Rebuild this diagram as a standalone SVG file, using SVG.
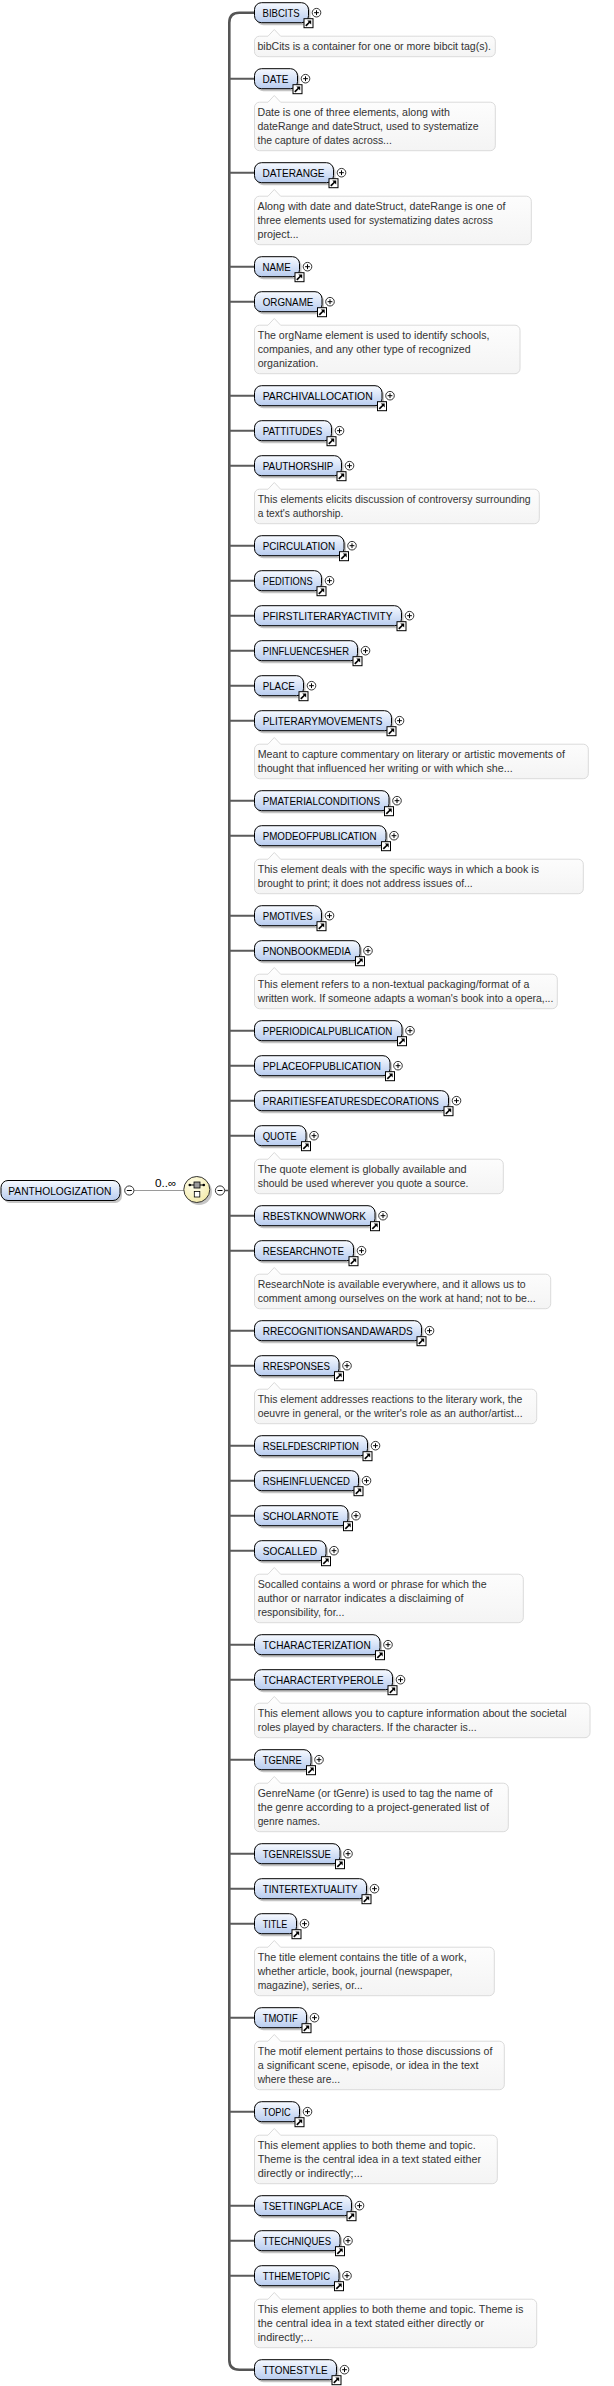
<svg xmlns="http://www.w3.org/2000/svg" width="614" height="2386" viewBox="0 0 614 2386">
<style>
.box{fill:url(#gN);stroke:#000;stroke-width:1}
.sh{fill:#8c8c8c;opacity:.5}
.lbl{font-family:"Liberation Sans",Arial,sans-serif;font-size:11px;fill:#000}
.dsc{fill:url(#gD);stroke:#dadada;stroke-width:1}
.dt{font-family:"Liberation Sans",Arial,sans-serif;font-size:10.5px;fill:#333}
.br{stroke:#5b5b5b;stroke-width:2;fill:none}
.bar{stroke:#555;stroke-width:2.6;fill:none}
</style>
<defs>
<linearGradient id="gN" x1="0" y1="0" x2="0" y2="1"><stop offset="0" stop-color="#f7faff"/><stop offset="1" stop-color="#b8ccef"/></linearGradient>
<linearGradient id="gD" x1="0" y1="0" x2="0" y2="1"><stop offset="0" stop-color="#fefefe"/><stop offset="1" stop-color="#f4f4f4"/></linearGradient>
<radialGradient id="gC" cx="0.4" cy="0.35" r="0.7"><stop offset="0" stop-color="#fffff0"/><stop offset="1" stop-color="#f3eaa8"/></radialGradient>
<g id="lnk"><rect x="0.5" y="0.5" width="9" height="9" fill="#fff" stroke="#000"/><path d="M2.3 7.7L6.2 3.8" stroke="#000" stroke-width="1.7"/><path d="M3.8 2.3H7.7V6.2Z" fill="#000"/></g>
<g id="plus"><circle r="4.3" fill="#fff" stroke="#333"/><path d="M-2.4 0H2.4M0 -2.4V2.4" stroke="#000"/></g>
<g id="minus"><circle r="4.6" fill="#fff" stroke="#333"/><path d="M-2.5 0H2.5" stroke="#000"/></g>
</defs>
<rect width="614" height="2386" fill="#fff"/>

<g id="connectors">
<line x1="134" y1="1190.5" x2="184" y2="1190.5" stroke="#9a9a9a" stroke-width="1"/>
<line x1="224.5" y1="1190.5" x2="229.3" y2="1190.5" stroke="#555" stroke-width="1.5"/>
<path class="bar" d="M254.5 12.7H239.3Q229.3 12.7 229.3 22.7V2359.7Q229.3 2369.7 239.3 2369.7H254.5"/>
<path class="br" d="M229.3 78.7H254.5M229.3 172.7H254.5M229.3 266.7H254.5M229.3 301.7H254.5M229.3 395.7H254.5M229.3 430.7H254.5M229.3 465.7H254.5M229.3 545.7H254.5M229.3 580.7H254.5M229.3 615.7H254.5M229.3 650.7H254.5M229.3 685.7H254.5M229.3 720.7H254.5M229.3 800.7H254.5M229.3 835.7H254.5M229.3 915.7H254.5M229.3 950.7H254.5M229.3 1030.7H254.5M229.3 1065.7H254.5M229.3 1100.7H254.5M229.3 1135.7H254.5M229.3 1215.7H254.5M229.3 1250.7H254.5M229.3 1330.7H254.5M229.3 1365.7H254.5M229.3 1445.7H254.5M229.3 1480.7H254.5M229.3 1515.7H254.5M229.3 1550.7H254.5M229.3 1644.7H254.5M229.3 1679.7H254.5M229.3 1759.7H254.5M229.3 1853.7H254.5M229.3 1888.7H254.5M229.3 1923.7H254.5M229.3 2017.7H254.5M229.3 2111.7H254.5M229.3 2205.7H254.5M229.3 2240.7H254.5M229.3 2275.7H254.5"/>
<text x="155" y="1187" class="lbl" font-size="10.5" textLength="21.5" lengthAdjust="spacingAndGlyphs">0..∞</text>
</g>

<g id="root">
<rect class="sh" x="3" y="1183" width="119" height="20" rx="7"/>
<rect class="box" x="1" y="1180.5" width="119" height="20" rx="7"/>
<text class="lbl" x="8.3" y="1194.5" textLength="103" lengthAdjust="spacingAndGlyphs">PANTHOLOGIZATION</text>
<use href="#minus" x="129.3" y="1190.5"/>
</g>

<g id="sequence">
<circle cx="199" cy="1192" r="13" fill="#8c8c8c" opacity=".5"/>
<circle cx="196.8" cy="1189.5" r="13" fill="url(#gC)" stroke="#333" stroke-width="1"/>
<line x1="189.5" y1="1185" x2="204" y2="1185" stroke="#000" stroke-width="1"/>
<circle cx="189.8" cy="1185" r="1.3" fill="#000"/>
<circle cx="203.8" cy="1185" r="1.3" fill="#000"/>
<rect x="194" y="1182" width="6" height="6" fill="#9a9a9a" stroke="#000" stroke-width="0.8"/>
<rect x="194.3" y="1191.5" width="5.5" height="5.5" fill="#fff" stroke="#000" stroke-width="0.8"/>
<use href="#minus" x="220" y="1190.5"/>
</g>

<g id="BIBCITS" transform="translate(0,12.7)">
<rect class="sh" x="256.5" y="-7.5" width="54" height="20" rx="7"/><rect class="box" x="254.5" y="-10" width="54" height="20" rx="7"/>
<text class="lbl" x="262.5" y="4" textLength="37.2" lengthAdjust="spacingAndGlyphs">BIBCITS</text>
<use href="#lnk" x="303.5" y="5.5"/><use href="#plus" x="316.5" y="0"/>
<path class="dsc" d="M259.5 23.5H268L274.3 16.8L280.6 23.5H490.3A5 5 0 0 1 495.3 28.5V39A5 5 0 0 1 490.3 44H259.5A5 5 0 0 1 254.5 39V28.5A5 5 0 0 1 259.5 23.5Z"/>
<text class="dt" x="257.5" y="37.5" textLength="233.4" lengthAdjust="spacingAndGlyphs">bibCits is a container for one or more bibcit tag(s).</text>
</g>

<g id="DATE" transform="translate(0,78.7)">
<rect class="sh" x="256.5" y="-7.5" width="43" height="20" rx="7"/><rect class="box" x="254.5" y="-10" width="43" height="20" rx="7"/>
<text class="lbl" x="262.5" y="4" textLength="26" lengthAdjust="spacingAndGlyphs">DATE</text>
<use href="#lnk" x="292.5" y="5.5"/><use href="#plus" x="305.5" y="0"/>
<path class="dsc" d="M259.5 23.5H268L274.3 16.8L280.6 23.5H490.3A5 5 0 0 1 495.3 28.5V67A5 5 0 0 1 490.3 72H259.5A5 5 0 0 1 254.5 67V28.5A5 5 0 0 1 259.5 23.5Z"/>
<text class="dt" x="257.5" y="37.5" textLength="192.3" lengthAdjust="spacingAndGlyphs">Date is one of three elements, along with</text>
<text class="dt" x="257.5" y="51.5" textLength="221.2" lengthAdjust="spacingAndGlyphs">dateRange and dateStruct, used to systematize</text>
<text class="dt" x="257.5" y="65.5" textLength="134.3" lengthAdjust="spacingAndGlyphs">the capture of dates across...</text>
</g>

<g id="DATERANGE" transform="translate(0,172.7)">
<rect class="sh" x="256.5" y="-7.5" width="79" height="20" rx="7"/><rect class="box" x="254.5" y="-10" width="79" height="20" rx="7"/>
<text class="lbl" x="262.5" y="4" textLength="62" lengthAdjust="spacingAndGlyphs">DATERANGE</text>
<use href="#lnk" x="328.5" y="5.5"/><use href="#plus" x="341.5" y="0"/>
<path class="dsc" d="M259.5 23.5H268L274.3 16.8L280.6 23.5H526.3A5 5 0 0 1 531.3 28.5V67A5 5 0 0 1 526.3 72H259.5A5 5 0 0 1 254.5 67V28.5A5 5 0 0 1 259.5 23.5Z"/>
<text class="dt" x="257.5" y="37.5" textLength="247.9" lengthAdjust="spacingAndGlyphs">Along with date and dateStruct, dateRange is one of</text>
<text class="dt" x="257.5" y="51.5" textLength="235.4" lengthAdjust="spacingAndGlyphs">three elements used for systematizing dates across</text>
<text class="dt" x="257.5" y="65.5" textLength="41.1" lengthAdjust="spacingAndGlyphs">project...</text>
</g>

<g id="NAME" transform="translate(0,266.7)">
<rect class="sh" x="256.5" y="-7.5" width="45" height="20" rx="7"/><rect class="box" x="254.5" y="-10" width="45" height="20" rx="7"/>
<text class="lbl" x="262.5" y="4" textLength="28.2" lengthAdjust="spacingAndGlyphs">NAME</text>
<use href="#lnk" x="294.5" y="5.5"/><use href="#plus" x="307.5" y="0"/>
</g>

<g id="ORGNAME" transform="translate(0,301.7)">
<rect class="sh" x="256.5" y="-7.5" width="67.5" height="20" rx="7"/><rect class="box" x="254.5" y="-10" width="67.5" height="20" rx="7"/>
<text class="lbl" x="262.7" y="4" textLength="50.7" lengthAdjust="spacingAndGlyphs">ORGNAME</text>
<use href="#lnk" x="317" y="5.5"/><use href="#plus" x="330" y="0"/>
<path class="dsc" d="M259.5 23.5H268L274.3 16.8L280.6 23.5H515A5 5 0 0 1 520 28.5V67A5 5 0 0 1 515 72H259.5A5 5 0 0 1 254.5 67V28.5A5 5 0 0 1 259.5 23.5Z"/>
<text class="dt" x="257.7" y="37.5" textLength="231.7" lengthAdjust="spacingAndGlyphs">The orgName element is used to identify schools,</text>
<text class="dt" x="257.7" y="51.5" textLength="213" lengthAdjust="spacingAndGlyphs">companies, and any other type of recognized</text>
<text class="dt" x="257.7" y="65.5" textLength="60.7" lengthAdjust="spacingAndGlyphs">organization.</text>
</g>

<g id="PARCHIVALLOCATION" transform="translate(0,395.7)">
<rect class="sh" x="256.5" y="-7.5" width="127.5" height="20" rx="7"/><rect class="box" x="254.5" y="-10" width="127.5" height="20" rx="7"/>
<text class="lbl" x="262.7" y="4" textLength="110" lengthAdjust="spacingAndGlyphs">PARCHIVALLOCATION</text>
<use href="#lnk" x="377" y="5.5"/><use href="#plus" x="390" y="0"/>
</g>

<g id="PATTITUDES" transform="translate(0,430.7)">
<rect class="sh" x="256.5" y="-7.5" width="77" height="20" rx="7"/><rect class="box" x="254.5" y="-10" width="77" height="20" rx="7"/>
<text class="lbl" x="262.7" y="4" textLength="59.7" lengthAdjust="spacingAndGlyphs">PATTITUDES</text>
<use href="#lnk" x="326.5" y="5.5"/><use href="#plus" x="339.5" y="0"/>
</g>

<g id="PAUTHORSHIP" transform="translate(0,465.7)">
<rect class="sh" x="256.5" y="-7.5" width="87" height="20" rx="7"/><rect class="box" x="254.5" y="-10" width="87" height="20" rx="7"/>
<text class="lbl" x="262.7" y="4" textLength="70.7" lengthAdjust="spacingAndGlyphs">PAUTHORSHIP</text>
<use href="#lnk" x="336.5" y="5.5"/><use href="#plus" x="349.5" y="0"/>
<path class="dsc" d="M259.5 23.5H268L274.3 16.8L280.6 23.5H534.3A5 5 0 0 1 539.3 28.5V53A5 5 0 0 1 534.3 58H259.5A5 5 0 0 1 254.5 53V28.5A5 5 0 0 1 259.5 23.5Z"/>
<text class="dt" x="257.7" y="37.5" textLength="273" lengthAdjust="spacingAndGlyphs">This elements elicits discussion of controversy surrounding</text>
<text class="dt" x="257.7" y="51.5" textLength="85.7" lengthAdjust="spacingAndGlyphs">a text's authorship.</text>
</g>

<g id="PCIRCULATION" transform="translate(0,545.7)">
<rect class="sh" x="256.5" y="-7.5" width="89.5" height="20" rx="7"/><rect class="box" x="254.5" y="-10" width="89.5" height="20" rx="7"/>
<text class="lbl" x="262.7" y="4" textLength="72.3" lengthAdjust="spacingAndGlyphs">PCIRCULATION</text>
<use href="#lnk" x="339" y="5.5"/><use href="#plus" x="352" y="0"/>
</g>

<g id="PEDITIONS" transform="translate(0,580.7)">
<rect class="sh" x="256.5" y="-7.5" width="67" height="20" rx="7"/><rect class="box" x="254.5" y="-10" width="67" height="20" rx="7"/>
<text class="lbl" x="262.7" y="4" textLength="50" lengthAdjust="spacingAndGlyphs">PEDITIONS</text>
<use href="#lnk" x="316.5" y="5.5"/><use href="#plus" x="329.5" y="0"/>
</g>

<g id="PFIRSTLITERARYACTIVITY" transform="translate(0,615.7)">
<rect class="sh" x="256.5" y="-7.5" width="147" height="20" rx="7"/><rect class="box" x="254.5" y="-10" width="147" height="20" rx="7"/>
<text class="lbl" x="262.7" y="4" textLength="129.7" lengthAdjust="spacingAndGlyphs">PFIRSTLITERARYACTIVITY</text>
<use href="#lnk" x="396.5" y="5.5"/><use href="#plus" x="409.5" y="0"/>
</g>

<g id="PINFLUENCESHER" transform="translate(0,650.7)">
<rect class="sh" x="256.5" y="-7.5" width="103" height="20" rx="7"/><rect class="box" x="254.5" y="-10" width="103" height="20" rx="7"/>
<text class="lbl" x="262.7" y="4" textLength="86.3" lengthAdjust="spacingAndGlyphs">PINFLUENCESHER</text>
<use href="#lnk" x="352.5" y="5.5"/><use href="#plus" x="365.5" y="0"/>
</g>

<g id="PLACE" transform="translate(0,685.7)">
<rect class="sh" x="256.5" y="-7.5" width="49" height="20" rx="7"/><rect class="box" x="254.5" y="-10" width="49" height="20" rx="7"/>
<text class="lbl" x="262.7" y="4" textLength="32" lengthAdjust="spacingAndGlyphs">PLACE</text>
<use href="#lnk" x="298.5" y="5.5"/><use href="#plus" x="311.5" y="0"/>
</g>

<g id="PLITERARYMOVEMENTS" transform="translate(0,720.7)">
<rect class="sh" x="256.5" y="-7.5" width="137" height="20" rx="7"/><rect class="box" x="254.5" y="-10" width="137" height="20" rx="7"/>
<text class="lbl" x="262.7" y="4" textLength="119.7" lengthAdjust="spacingAndGlyphs">PLITERARYMOVEMENTS</text>
<use href="#lnk" x="386.5" y="5.5"/><use href="#plus" x="399.5" y="0"/>
<path class="dsc" d="M259.5 23.5H268L274.3 16.8L280.6 23.5H583.3A5 5 0 0 1 588.3 28.5V53A5 5 0 0 1 583.3 58H259.5A5 5 0 0 1 254.5 53V28.5A5 5 0 0 1 259.5 23.5Z"/>
<text class="dt" x="257.7" y="37.5" textLength="307.3" lengthAdjust="spacingAndGlyphs">Meant to capture commentary on literary or artistic movements of</text>
<text class="dt" x="257.7" y="51.5" textLength="255" lengthAdjust="spacingAndGlyphs">thought that influenced her writing or with which she...</text>
</g>

<g id="PMATERIALCONDITIONS" transform="translate(0,800.7)">
<rect class="sh" x="256.5" y="-7.5" width="134.5" height="20" rx="7"/><rect class="box" x="254.5" y="-10" width="134.5" height="20" rx="7"/>
<text class="lbl" x="262.7" y="4" textLength="117.3" lengthAdjust="spacingAndGlyphs">PMATERIALCONDITIONS</text>
<use href="#lnk" x="384" y="5.5"/><use href="#plus" x="397" y="0"/>
</g>

<g id="PMODEOFPUBLICATION" transform="translate(0,835.7)">
<rect class="sh" x="256.5" y="-7.5" width="131.5" height="20" rx="7"/><rect class="box" x="254.5" y="-10" width="131.5" height="20" rx="7"/>
<text class="lbl" x="262.7" y="4" textLength="114" lengthAdjust="spacingAndGlyphs">PMODEOFPUBLICATION</text>
<use href="#lnk" x="381" y="5.5"/><use href="#plus" x="394" y="0"/>
<path class="dsc" d="M259.5 23.5H268L274.3 16.8L280.6 23.5H578.3A5 5 0 0 1 583.3 28.5V53A5 5 0 0 1 578.3 58H259.5A5 5 0 0 1 254.5 53V28.5A5 5 0 0 1 259.5 23.5Z"/>
<text class="dt" x="257.7" y="37.5" textLength="281.3" lengthAdjust="spacingAndGlyphs">This element deals with the specific ways in which a book is</text>
<text class="dt" x="257.7" y="51.5" textLength="215" lengthAdjust="spacingAndGlyphs">brought to print; it does not address issues of...</text>
</g>

<g id="PMOTIVES" transform="translate(0,915.7)">
<rect class="sh" x="256.5" y="-7.5" width="67" height="20" rx="7"/><rect class="box" x="254.5" y="-10" width="67" height="20" rx="7"/>
<text class="lbl" x="262.7" y="4" textLength="50" lengthAdjust="spacingAndGlyphs">PMOTIVES</text>
<use href="#lnk" x="316.5" y="5.5"/><use href="#plus" x="329.5" y="0"/>
</g>

<g id="PNONBOOKMEDIA" transform="translate(0,950.7)">
<rect class="sh" x="256.5" y="-7.5" width="105.5" height="20" rx="7"/><rect class="box" x="254.5" y="-10" width="105.5" height="20" rx="7"/>
<text class="lbl" x="262.7" y="4" textLength="88" lengthAdjust="spacingAndGlyphs">PNONBOOKMEDIA</text>
<use href="#lnk" x="355" y="5.5"/><use href="#plus" x="368" y="0"/>
<path class="dsc" d="M259.5 23.5H268L274.3 16.8L280.6 23.5H552.3A5 5 0 0 1 557.3 28.5V53A5 5 0 0 1 552.3 58H259.5A5 5 0 0 1 254.5 53V28.5A5 5 0 0 1 259.5 23.5Z"/>
<text class="dt" x="257.7" y="37.5" textLength="271.7" lengthAdjust="spacingAndGlyphs">This element refers to a non-textual packaging/format of a</text>
<text class="dt" x="257.7" y="51.5" textLength="295.7" lengthAdjust="spacingAndGlyphs">written work. If someone adapts a woman's book into a opera,...</text>
</g>

<g id="PPERIODICALPUBLICATION" transform="translate(0,1030.7)">
<rect class="sh" x="256.5" y="-7.5" width="147.5" height="20" rx="7"/><rect class="box" x="254.5" y="-10" width="147.5" height="20" rx="7"/>
<text class="lbl" x="262.7" y="4" textLength="129.7" lengthAdjust="spacingAndGlyphs">PPERIODICALPUBLICATION</text>
<use href="#lnk" x="397" y="5.5"/><use href="#plus" x="410" y="0"/>
</g>

<g id="PPLACEOFPUBLICATION" transform="translate(0,1065.7)">
<rect class="sh" x="256.5" y="-7.5" width="135.5" height="20" rx="7"/><rect class="box" x="254.5" y="-10" width="135.5" height="20" rx="7"/>
<text class="lbl" x="262.7" y="4" textLength="118.3" lengthAdjust="spacingAndGlyphs">PPLACEOFPUBLICATION</text>
<use href="#lnk" x="385" y="5.5"/><use href="#plus" x="398" y="0"/>
</g>

<g id="PRARITIESFEATURESDECORATIONS" transform="translate(0,1100.7)">
<rect class="sh" x="256.5" y="-7.5" width="194" height="20" rx="7"/><rect class="box" x="254.5" y="-10" width="194" height="20" rx="7"/>
<text class="lbl" x="262.7" y="4" textLength="176.3" lengthAdjust="spacingAndGlyphs">PRARITIESFEATURESDECORATIONS</text>
<use href="#lnk" x="443.5" y="5.5"/><use href="#plus" x="456.5" y="0"/>
</g>

<g id="QUOTE" transform="translate(0,1135.7)">
<rect class="sh" x="256.5" y="-7.5" width="51.5" height="20" rx="7"/><rect class="box" x="254.5" y="-10" width="51.5" height="20" rx="7"/>
<text class="lbl" x="262.7" y="4" textLength="34" lengthAdjust="spacingAndGlyphs">QUOTE</text>
<use href="#lnk" x="301" y="5.5"/><use href="#plus" x="314" y="0"/>
<path class="dsc" d="M259.5 23.5H268L274.3 16.8L280.6 23.5H498.3A5 5 0 0 1 503.3 28.5V53A5 5 0 0 1 498.3 58H259.5A5 5 0 0 1 254.5 53V28.5A5 5 0 0 1 259.5 23.5Z"/>
<text class="dt" x="257.7" y="37.5" textLength="209" lengthAdjust="spacingAndGlyphs">The quote element is globally available and</text>
<text class="dt" x="257.7" y="51.5" textLength="210.7" lengthAdjust="spacingAndGlyphs">should be used wherever you quote a source.</text>
</g>

<g id="RBESTKNOWNWORK" transform="translate(0,1215.7)">
<rect class="sh" x="256.5" y="-7.5" width="120.5" height="20" rx="7"/><rect class="box" x="254.5" y="-10" width="120.5" height="20" rx="7"/>
<text class="lbl" x="262.7" y="4" textLength="103.3" lengthAdjust="spacingAndGlyphs">RBESTKNOWNWORK</text>
<use href="#lnk" x="370" y="5.5"/><use href="#plus" x="383" y="0"/>
</g>

<g id="RESEARCHNOTE" transform="translate(0,1250.7)">
<rect class="sh" x="256.5" y="-7.5" width="99" height="20" rx="7"/><rect class="box" x="254.5" y="-10" width="99" height="20" rx="7"/>
<text class="lbl" x="262.7" y="4" textLength="81.3" lengthAdjust="spacingAndGlyphs">RESEARCHNOTE</text>
<use href="#lnk" x="348.5" y="5.5"/><use href="#plus" x="361.5" y="0"/>
<path class="dsc" d="M259.5 23.5H268L274.3 16.8L280.6 23.5H545.7A5 5 0 0 1 550.7 28.5V53A5 5 0 0 1 545.7 58H259.5A5 5 0 0 1 254.5 53V28.5A5 5 0 0 1 259.5 23.5Z"/>
<text class="dt" x="257.7" y="37.5" textLength="268" lengthAdjust="spacingAndGlyphs">ResearchNote is available everywhere, and it allows us to</text>
<text class="dt" x="257.7" y="51.5" textLength="278" lengthAdjust="spacingAndGlyphs">comment among ourselves on the work at hand; not to be...</text>
</g>

<g id="RRECOGNITIONSANDAWARDS" transform="translate(0,1330.7)">
<rect class="sh" x="256.5" y="-7.5" width="167" height="20" rx="7"/><rect class="box" x="254.5" y="-10" width="167" height="20" rx="7"/>
<text class="lbl" x="262.7" y="4" textLength="150" lengthAdjust="spacingAndGlyphs">RRECOGNITIONSANDAWARDS</text>
<use href="#lnk" x="416.5" y="5.5"/><use href="#plus" x="429.5" y="0"/>
</g>

<g id="RRESPONSES" transform="translate(0,1365.7)">
<rect class="sh" x="256.5" y="-7.5" width="84.5" height="20" rx="7"/><rect class="box" x="254.5" y="-10" width="84.5" height="20" rx="7"/>
<text class="lbl" x="262.7" y="4" textLength="67.3" lengthAdjust="spacingAndGlyphs">RRESPONSES</text>
<use href="#lnk" x="334" y="5.5"/><use href="#plus" x="347" y="0"/>
<path class="dsc" d="M259.5 23.5H268L274.3 16.8L280.6 23.5H531.7A5 5 0 0 1 536.7 28.5V53A5 5 0 0 1 531.7 58H259.5A5 5 0 0 1 254.5 53V28.5A5 5 0 0 1 259.5 23.5Z"/>
<text class="dt" x="257.7" y="37.5" textLength="264.7" lengthAdjust="spacingAndGlyphs">This element addresses reactions to the literary work, the</text>
<text class="dt" x="257.7" y="51.5" textLength="265" lengthAdjust="spacingAndGlyphs">oeuvre in general, or the writer's role as an author/artist...</text>
</g>

<g id="RSELFDESCRIPTION" transform="translate(0,1445.7)">
<rect class="sh" x="256.5" y="-7.5" width="113" height="20" rx="7"/><rect class="box" x="254.5" y="-10" width="113" height="20" rx="7"/>
<text class="lbl" x="262.7" y="4" textLength="96.3" lengthAdjust="spacingAndGlyphs">RSELFDESCRIPTION</text>
<use href="#lnk" x="362.5" y="5.5"/><use href="#plus" x="375.5" y="0"/>
</g>

<g id="RSHEINFLUENCED" transform="translate(0,1480.7)">
<rect class="sh" x="256.5" y="-7.5" width="104" height="20" rx="7"/><rect class="box" x="254.5" y="-10" width="104" height="20" rx="7"/>
<text class="lbl" x="262.7" y="4" textLength="87.3" lengthAdjust="spacingAndGlyphs">RSHEINFLUENCED</text>
<use href="#lnk" x="353.5" y="5.5"/><use href="#plus" x="366.5" y="0"/>
</g>

<g id="SCHOLARNOTE" transform="translate(0,1515.7)">
<rect class="sh" x="256.5" y="-7.5" width="93.5" height="20" rx="7"/><rect class="box" x="254.5" y="-10" width="93.5" height="20" rx="7"/>
<text class="lbl" x="262.7" y="4" textLength="76" lengthAdjust="spacingAndGlyphs">SCHOLARNOTE</text>
<use href="#lnk" x="343" y="5.5"/><use href="#plus" x="356" y="0"/>
</g>

<g id="SOCALLED" transform="translate(0,1550.7)">
<rect class="sh" x="256.5" y="-7.5" width="71.5" height="20" rx="7"/><rect class="box" x="254.5" y="-10" width="71.5" height="20" rx="7"/>
<text class="lbl" x="262.7" y="4" textLength="54.3" lengthAdjust="spacingAndGlyphs">SOCALLED</text>
<use href="#lnk" x="321" y="5.5"/><use href="#plus" x="334" y="0"/>
<path class="dsc" d="M259.5 23.5H268L274.3 16.8L280.6 23.5H518.3A5 5 0 0 1 523.3 28.5V67A5 5 0 0 1 518.3 72H259.5A5 5 0 0 1 254.5 67V28.5A5 5 0 0 1 259.5 23.5Z"/>
<text class="dt" x="257.7" y="37.5" textLength="229" lengthAdjust="spacingAndGlyphs">Socalled contains a word or phrase for which the</text>
<text class="dt" x="257.7" y="51.5" textLength="205.7" lengthAdjust="spacingAndGlyphs">author or narrator indicates a disclaiming of</text>
<text class="dt" x="257.7" y="65.5" textLength="86.7" lengthAdjust="spacingAndGlyphs">responsibility, for...</text>
</g>

<g id="TCHARACTERIZATION" transform="translate(0,1644.7)">
<rect class="sh" x="256.5" y="-7.5" width="125.5" height="20" rx="7"/><rect class="box" x="254.5" y="-10" width="125.5" height="20" rx="7"/>
<text class="lbl" x="262.7" y="4" textLength="108" lengthAdjust="spacingAndGlyphs">TCHARACTERIZATION</text>
<use href="#lnk" x="375" y="5.5"/><use href="#plus" x="388" y="0"/>
</g>

<g id="TCHARACTERTYPEROLE" transform="translate(0,1679.7)">
<rect class="sh" x="256.5" y="-7.5" width="138" height="20" rx="7"/><rect class="box" x="254.5" y="-10" width="138" height="20" rx="7"/>
<text class="lbl" x="262.7" y="4" textLength="121" lengthAdjust="spacingAndGlyphs">TCHARACTERTYPEROLE</text>
<use href="#lnk" x="387.5" y="5.5"/><use href="#plus" x="400.5" y="0"/>
<path class="dsc" d="M259.5 23.5H268L274.3 16.8L280.6 23.5H585A5 5 0 0 1 590 28.5V53A5 5 0 0 1 585 58H259.5A5 5 0 0 1 254.5 53V28.5A5 5 0 0 1 259.5 23.5Z"/>
<text class="dt" x="257.7" y="37.5" textLength="309" lengthAdjust="spacingAndGlyphs">This element allows you to capture information about the societal</text>
<text class="dt" x="257.7" y="51.5" textLength="219" lengthAdjust="spacingAndGlyphs">roles played by characters. If the character is...</text>
</g>

<g id="TGENRE" transform="translate(0,1759.7)">
<rect class="sh" x="256.5" y="-7.5" width="56.5" height="20" rx="7"/><rect class="box" x="254.5" y="-10" width="56.5" height="20" rx="7"/>
<text class="lbl" x="262.7" y="4" textLength="39" lengthAdjust="spacingAndGlyphs">TGENRE</text>
<use href="#lnk" x="306" y="5.5"/><use href="#plus" x="319" y="0"/>
<path class="dsc" d="M259.5 23.5H268L274.3 16.8L280.6 23.5H503.3A5 5 0 0 1 508.3 28.5V67A5 5 0 0 1 503.3 72H259.5A5 5 0 0 1 254.5 67V28.5A5 5 0 0 1 259.5 23.5Z"/>
<text class="dt" x="257.7" y="37.5" textLength="234.7" lengthAdjust="spacingAndGlyphs">GenreName (or tGenre) is used to tag the name of</text>
<text class="dt" x="257.7" y="51.5" textLength="231.3" lengthAdjust="spacingAndGlyphs">the genre according to a project-generated list of</text>
<text class="dt" x="257.7" y="65.5" textLength="62.3" lengthAdjust="spacingAndGlyphs">genre names.</text>
</g>

<g id="TGENREISSUE" transform="translate(0,1853.7)">
<rect class="sh" x="256.5" y="-7.5" width="85.5" height="20" rx="7"/><rect class="box" x="254.5" y="-10" width="85.5" height="20" rx="7"/>
<text class="lbl" x="262.7" y="4" textLength="68.3" lengthAdjust="spacingAndGlyphs">TGENREISSUE</text>
<use href="#lnk" x="335" y="5.5"/><use href="#plus" x="348" y="0"/>
</g>

<g id="TINTERTEXTUALITY" transform="translate(0,1888.7)">
<rect class="sh" x="256.5" y="-7.5" width="112" height="20" rx="7"/><rect class="box" x="254.5" y="-10" width="112" height="20" rx="7"/>
<text class="lbl" x="262.7" y="4" textLength="95" lengthAdjust="spacingAndGlyphs">TINTERTEXTUALITY</text>
<use href="#lnk" x="361.5" y="5.5"/><use href="#plus" x="374.5" y="0"/>
</g>

<g id="TITLE" transform="translate(0,1923.7)">
<rect class="sh" x="256.5" y="-7.5" width="42" height="20" rx="7"/><rect class="box" x="254.5" y="-10" width="42" height="20" rx="7"/>
<text class="lbl" x="262.7" y="4" textLength="24.7" lengthAdjust="spacingAndGlyphs">TITLE</text>
<use href="#lnk" x="291.5" y="5.5"/><use href="#plus" x="304.5" y="0"/>
<path class="dsc" d="M259.5 23.5H268L274.3 16.8L280.6 23.5H489.3A5 5 0 0 1 494.3 28.5V67A5 5 0 0 1 489.3 72H259.5A5 5 0 0 1 254.5 67V28.5A5 5 0 0 1 259.5 23.5Z"/>
<text class="dt" x="257.7" y="37.5" textLength="209" lengthAdjust="spacingAndGlyphs">The title element contains the title of a work,</text>
<text class="dt" x="257.7" y="51.5" textLength="194.7" lengthAdjust="spacingAndGlyphs">whether article, book, journal (newspaper,</text>
<text class="dt" x="257.7" y="65.5" textLength="105" lengthAdjust="spacingAndGlyphs">magazine), series, or...</text>
</g>

<g id="TMOTIF" transform="translate(0,2017.7)">
<rect class="sh" x="256.5" y="-7.5" width="52" height="20" rx="7"/><rect class="box" x="254.5" y="-10" width="52" height="20" rx="7"/>
<text class="lbl" x="262.7" y="4" textLength="35" lengthAdjust="spacingAndGlyphs">TMOTIF</text>
<use href="#lnk" x="301.5" y="5.5"/><use href="#plus" x="314.5" y="0"/>
<path class="dsc" d="M259.5 23.5H268L274.3 16.8L280.6 23.5H499.3A5 5 0 0 1 504.3 28.5V67A5 5 0 0 1 499.3 72H259.5A5 5 0 0 1 254.5 67V28.5A5 5 0 0 1 259.5 23.5Z"/>
<text class="dt" x="257.7" y="37.5" textLength="234.7" lengthAdjust="spacingAndGlyphs">The motif element pertains to those discussions of</text>
<text class="dt" x="257.7" y="51.5" textLength="220.7" lengthAdjust="spacingAndGlyphs">a significant scene, episode, or idea in the text</text>
<text class="dt" x="257.7" y="65.5" textLength="82.3" lengthAdjust="spacingAndGlyphs">where these are...</text>
</g>

<g id="TOPIC" transform="translate(0,2111.7)">
<rect class="sh" x="256.5" y="-7.5" width="45" height="20" rx="7"/><rect class="box" x="254.5" y="-10" width="45" height="20" rx="7"/>
<text class="lbl" x="262.7" y="4" textLength="28" lengthAdjust="spacingAndGlyphs">TOPIC</text>
<use href="#lnk" x="294.5" y="5.5"/><use href="#plus" x="307.5" y="0"/>
<path class="dsc" d="M259.5 23.5H268L274.3 16.8L280.6 23.5H492.3A5 5 0 0 1 497.3 28.5V67A5 5 0 0 1 492.3 72H259.5A5 5 0 0 1 254.5 67V28.5A5 5 0 0 1 259.5 23.5Z"/>
<text class="dt" x="257.7" y="37.5" textLength="218" lengthAdjust="spacingAndGlyphs">This element applies to both theme and topic.</text>
<text class="dt" x="257.7" y="51.5" textLength="223.3" lengthAdjust="spacingAndGlyphs">Theme is the central idea in a text stated either</text>
<text class="dt" x="257.7" y="65.5" textLength="105" lengthAdjust="spacingAndGlyphs">directly or indirectly;...</text>
</g>

<g id="TSETTINGPLACE" transform="translate(0,2205.7)">
<rect class="sh" x="256.5" y="-7.5" width="97" height="20" rx="7"/><rect class="box" x="254.5" y="-10" width="97" height="20" rx="7"/>
<text class="lbl" x="262.7" y="4" textLength="80" lengthAdjust="spacingAndGlyphs">TSETTINGPLACE</text>
<use href="#lnk" x="346.5" y="5.5"/><use href="#plus" x="359.5" y="0"/>
</g>

<g id="TTECHNIQUES" transform="translate(0,2240.7)">
<rect class="sh" x="256.5" y="-7.5" width="85.5" height="20" rx="7"/><rect class="box" x="254.5" y="-10" width="85.5" height="20" rx="7"/>
<text class="lbl" x="262.7" y="4" textLength="68.3" lengthAdjust="spacingAndGlyphs">TTECHNIQUES</text>
<use href="#lnk" x="335" y="5.5"/><use href="#plus" x="348" y="0"/>
</g>

<g id="TTHEMETOPIC" transform="translate(0,2275.7)">
<rect class="sh" x="256.5" y="-7.5" width="84.5" height="20" rx="7"/><rect class="box" x="254.5" y="-10" width="84.5" height="20" rx="7"/>
<text class="lbl" x="262.7" y="4" textLength="67.3" lengthAdjust="spacingAndGlyphs">TTHEMETOPIC</text>
<use href="#lnk" x="334" y="5.5"/><use href="#plus" x="347" y="0"/>
<path class="dsc" d="M259.5 23.5H268L274.3 16.8L280.6 23.5H531.7A5 5 0 0 1 536.7 28.5V67A5 5 0 0 1 531.7 72H259.5A5 5 0 0 1 254.5 67V28.5A5 5 0 0 1 259.5 23.5Z"/>
<text class="dt" x="257.7" y="37.5" textLength="265.7" lengthAdjust="spacingAndGlyphs">This element applies to both theme and topic. Theme is</text>
<text class="dt" x="257.7" y="51.5" textLength="226.3" lengthAdjust="spacingAndGlyphs">the central idea in a text stated either directly or</text>
<text class="dt" x="257.7" y="65.5" textLength="55" lengthAdjust="spacingAndGlyphs">indirectly;...</text>
</g>

<g id="TTONESTYLE" transform="translate(0,2369.7)">
<rect class="sh" x="256.5" y="-7.5" width="82" height="20" rx="7"/><rect class="box" x="254.5" y="-10" width="82" height="20" rx="7"/>
<text class="lbl" x="262.7" y="4" textLength="65" lengthAdjust="spacingAndGlyphs">TTONESTYLE</text>
<use href="#lnk" x="331.5" y="5.5"/><use href="#plus" x="344.5" y="0"/>
</g>
</svg>
